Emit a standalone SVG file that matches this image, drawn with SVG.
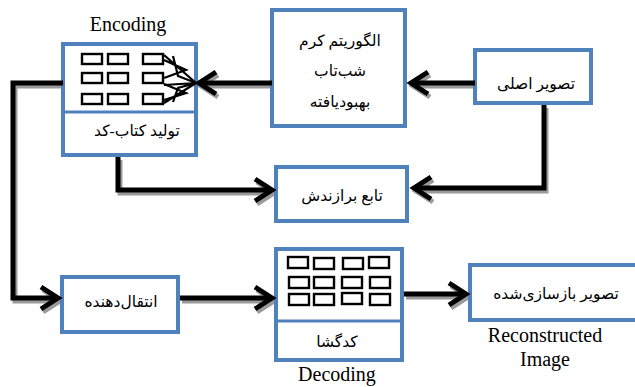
<svg xmlns="http://www.w3.org/2000/svg" width="635" height="387" viewBox="0 0 635 387">
<style>
.box{fill:#fff;stroke:#4F81BD;stroke-width:4}
.div{stroke:#4F81BD;stroke-width:3}
.cell{fill:#fff;stroke:#000;stroke-width:2.4}
.fa{font-family:"Liberation Serif","DejaVu Sans",serif;font-size:15.5px;fill:#000;text-anchor:middle}
.en{font-family:"Liberation Serif","Times New Roman",serif;font-size:20px;fill:#000;text-anchor:middle}
.con{fill:none;stroke:#000;stroke-width:5;stroke-linejoin:miter}
.sh{fill:none;stroke:#9a9a9a;stroke-width:5}
.fan{fill:none;stroke:#000;stroke-width:2.2}
</style>
<defs>
<marker id="ah" markerUnits="userSpaceOnUse" viewBox="-25 -16 30 32" refX="0" refY="0" markerWidth="30" markerHeight="32" orient="auto" overflow="visible">
<path d="M-17,-11 L0,0 L-17,11" fill="none" stroke="#000" stroke-width="5"/>
</marker>
<marker id="ahs" markerUnits="userSpaceOnUse" viewBox="-25 -16 30 32" refX="0" refY="0" markerWidth="30" markerHeight="32" orient="auto" overflow="visible">
<path d="M-17,-11 L0,0 L-17,11" fill="none" stroke="#9a9a9a" stroke-width="5"/>
</marker>
</defs>

<g id="connectors-shadow" transform="translate(2,3)">
<path class="sh" d="M475,83 L411,83" marker-end="url(#ahs)"/>
<path class="sh" d="M272,83 L199,83" marker-end="url(#ahs)"/>
<path class="sh" d="M63,83 L13,83 L13,298 L58,298" marker-end="url(#ahs)"/>
<path class="sh" d="M118,157 L118,190 L272,190" marker-end="url(#ahs)"/>
<path class="sh" d="M544,105 L544,188 L414,188" marker-end="url(#ahs)"/>
<path class="sh" d="M180,298 L272,298" marker-end="url(#ahs)"/>
<path class="sh" d="M404,294 L466,294" marker-end="url(#ahs)"/>
</g>

<g id="encoding">
<text class="en" x="128" y="31">Encoding</text>
<rect class="box" x="63" y="44" width="133" height="111"/>
<line class="div" x1="63" y1="112" x2="196" y2="112"/>
<rect class="cell" x="82" y="54" width="20" height="10"/>
<rect class="cell" x="108" y="54" width="20" height="10"/>
<rect class="cell" x="143" y="54" width="20" height="10"/>
<rect class="cell" x="82" y="73" width="20" height="10"/>
<rect class="cell" x="108" y="73" width="20" height="10"/>
<rect class="cell" x="143" y="73" width="20" height="10"/>
<rect class="cell" x="82" y="94" width="20" height="10"/>
<rect class="cell" x="108" y="94" width="20" height="10"/>
<rect class="cell" x="143" y="94" width="20" height="10"/>
<path class="fan" d="M164,55 L196,83 M164,60 L186,70 L164,78 M173,56 L178,76 L196,83 M164,85 L196,83 M164,100 L186,93 L164,84 M173,102 L178,88 L196,83 M164,103 L196,83"/>
<text class="fa" x="137" y="136">تولید کتاب-کد</text>
</g>

<g id="firefly">
<rect class="box" x="272" y="10" width="133" height="116"/>
<text class="fa" x="340" y="46">الگوریتم کرم</text>
<text class="fa" x="340" y="76">شب‌تاب</text>
<text class="fa" x="340" y="107">بهبودیافته</text>
</g>

<g id="original">
<rect class="box" x="475" y="50" width="116" height="53"/>
<text class="fa" x="536" y="89">تصویر اصلی</text>
</g>

<g id="fitness">
<rect class="box" x="276" y="167" width="131" height="54"/>
<text class="fa" x="342" y="201">تابع برازندش</text>
</g>

<g id="transmitter">
<rect class="box" x="62" y="277" width="116" height="55"/>
<text class="fa" x="121" y="307">انتقال‌دهنده</text>
</g>

<g id="decoding">
<rect class="box" x="276" y="249" width="126" height="111"/>
<line class="div" x1="276" y1="321" x2="402" y2="321"/>
<rect class="cell" x="288" y="257" width="20" height="11"/>
<rect class="cell" x="314" y="258" width="20" height="11"/>
<rect class="cell" x="343" y="258" width="20" height="11"/>
<rect class="cell" x="369" y="257" width="20" height="11"/>
<rect class="cell" x="289" y="277" width="20" height="11"/>
<rect class="cell" x="314" y="277" width="20" height="11"/>
<rect class="cell" x="342" y="277" width="20" height="11"/>
<rect class="cell" x="370" y="277" width="20" height="11"/>
<rect class="cell" x="289" y="294" width="20" height="11"/>
<rect class="cell" x="314" y="294" width="20" height="11"/>
<rect class="cell" x="342" y="293" width="20" height="11"/>
<rect class="cell" x="370" y="294" width="20" height="11"/>
<text class="fa" x="337" y="347">کدگشا</text>
<text class="en" x="337" y="381">Decoding</text>
</g>

<g id="reconstructed">
<rect class="box" x="470" y="265" width="175" height="55"/>
<text class="fa" x="556" y="299">تصویر بازسازی‌شده</text>
<text class="en" x="545" y="342">Reconstructed</text>
<text class="en" x="545" y="366">Image</text>
</g>

<g id="connectors">
<path class="con" d="M475,83 L411,83" marker-end="url(#ah)"/>
<path class="con" d="M272,83 L199,83" marker-end="url(#ah)"/>
<path class="con" d="M63,83 L13,83 L13,298 L58,298" marker-end="url(#ah)"/>
<path class="con" d="M118,157 L118,190 L272,190" marker-end="url(#ah)"/>
<path class="con" d="M544,105 L544,188 L414,188" marker-end="url(#ah)"/>
<path class="con" d="M180,298 L272,298" marker-end="url(#ah)"/>
<path class="con" d="M404,294 L466,294" marker-end="url(#ah)"/>
</g>
</svg>
